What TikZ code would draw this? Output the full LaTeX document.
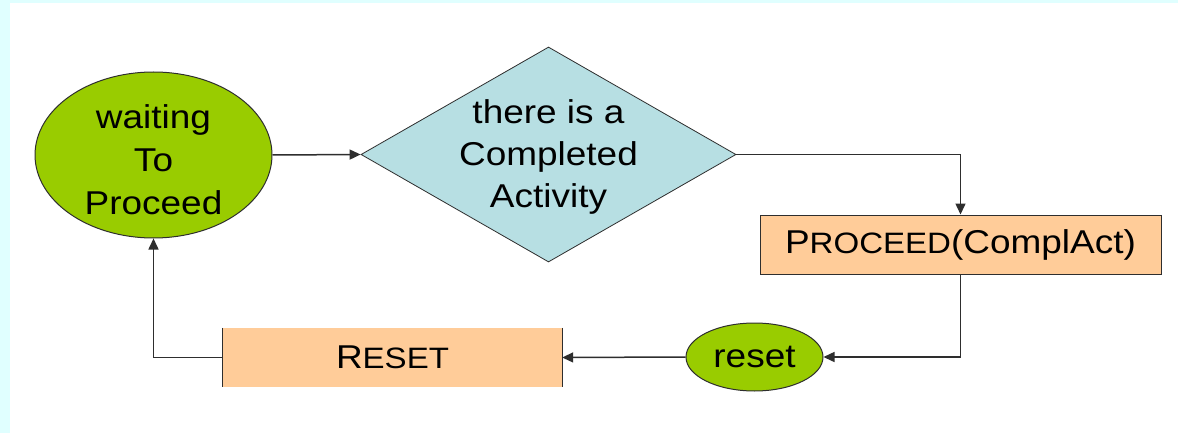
\documentclass[tikz,border=0pt]{standalone}
\usepackage{fontspec}
\setmainfont{Liberation Sans}[FakeStretch=1.12]
\usetikzlibrary{shapes.geometric,arrows.meta}
\definecolor{stategreen}{HTML}{99CC00}
\definecolor{testblue}{HTML}{B7DFE3}
\definecolor{actorange}{HTML}{FFCC99}
\definecolor{edgegray}{HTML}{2E2E2E}
\definecolor{framecyan}{HTML}{E0FFFF}
\newcommand\lowcap[1]{{\fontsize{29.5}{42}\selectfont #1}}
\tikzset{
  txt/.style={font=\fontsize{33}{42}\selectfont, align=center, text=black},
  state/.style={ellipse, draw=edgegray, line width=1pt, fill=stategreen, inner sep=0pt},
  test/.style={diamond, draw=edgegray, line width=0.8pt, fill=testblue, inner sep=0pt},
  action/.style={rectangle, draw=edgegray, line width=1pt, fill=actorange, inner sep=0pt},
  flow/.style={draw=edgegray, line width=1.5pt, -{Triangle[length=11pt,width=10pt]}}
}
\begin{document}
\begin{tikzpicture}[x=1pt,y=-1pt]
  % page and frame
  \fill[white] (0,0) rectangle (1178,433);
  \fill[framecyan] (0,0) rectangle (10,433);
  \fill[framecyan] (0,0) rectangle (1178,3);
  \useasboundingbox (0,0) rectangle (1178,433);

  % nodes
  \node[state, minimum width=237pt, minimum height=166pt,
        label={[txt, font=\fontsize{33}{43}\selectfont, yshift=-5pt]center:waiting\\To\\Proceed}] (wait) at (153.5,155) {};
  \node[test, minimum width=375pt, minimum height=215pt,
        label={[txt, yshift=-2pt]center:there is a\\Completed\\Activity}] (dec) at (548.5,154.5) {};
  \node[action, minimum width=401pt, minimum height=59pt,
        label={[txt]center:P\lowcap{ROCEED}(ComplAct)}] (proc) at (960.5,244.5) {};
  \node[state, minimum width=137pt, minimum height=68pt,
        label={[txt]center:reset}] (rst) at (754.5,357) {};
  \node[rectangle, fill=actorange, inner sep=0pt, minimum width=339pt, minimum height=59pt,
        label={[txt]center:R\lowcap{ESET}}] (resetbox) at (392.5,357.5) {};
  \draw[edgegray, line width=1pt] (resetbox.north west) -- (resetbox.south west)
                                  (resetbox.north east) -- (resetbox.south east);

  % connectors
  \draw[flow] (wait.east) -- (dec.west);
  \draw[flow] (dec.east) -| (proc.north);
  \draw[flow] (proc.south) |- (rst.east);
  \draw[flow] (rst.west) -- (resetbox.east);
  \draw[flow] (resetbox.west) -| (wait.south);
\end{tikzpicture}
\end{document}
